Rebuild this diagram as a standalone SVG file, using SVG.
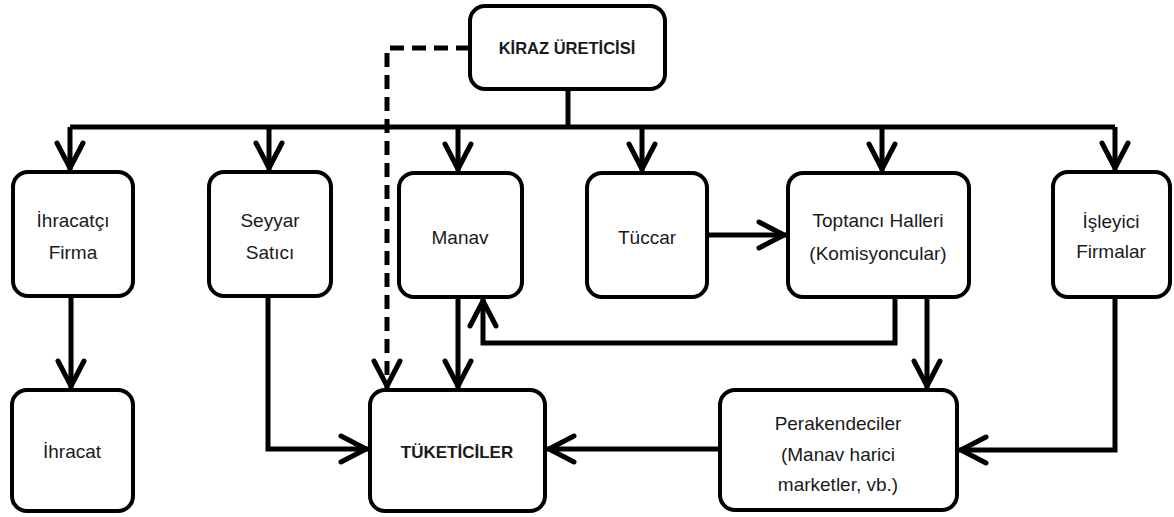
<svg xmlns="http://www.w3.org/2000/svg" width="1174" height="517" viewBox="0 0 1174 517">
<style>
.box{fill:#fff;stroke:#000;stroke-width:4}
.t{font-family:"Liberation Sans",Arial,sans-serif;font-size:19px;fill:#1a1a1a;text-anchor:middle}
.b{font-weight:bold;font-size:16.5px}
.c{fill:none;stroke:#000;stroke-width:5;stroke-linejoin:miter}
.d{stroke-dasharray:14 8}
</style>
<defs>
<marker id="arr" markerUnits="userSpaceOnUse" markerWidth="40" markerHeight="40" viewBox="-32 -20 40 40" refX="0" refY="0" orient="auto" overflow="visible">
<path d="M-27,-13 L-2,0 L-27,13" fill="none" stroke="#000" stroke-width="5" stroke-linejoin="round" stroke-linecap="round"/>
</marker>
</defs>
<rect width="1174" height="517" fill="#fff"/>
<g id="connectors">
<path class="c" d="M568,89 V127"/>
<path class="c" d="M70,127 H1115"/>
<path class="c" d="M70,127 V170" marker-end="url(#arr)"/>
<path class="c" d="M269,127 V170" marker-end="url(#arr)"/>
<path class="c" d="M458,127 V171" marker-end="url(#arr)"/>
<path class="c" d="M642,127 V171" marker-end="url(#arr)"/>
<path class="c" d="M882,127 V171" marker-end="url(#arr)"/>
<path class="c" d="M1115,127 V170" marker-end="url(#arr)"/>
<path class="c d" d="M470,48 H387 V388" marker-end="url(#arr)"/>
<path class="c" d="M71,296 V388" marker-end="url(#arr)"/>
<path class="c" d="M268,296 V449 H368" marker-end="url(#arr)"/>
<path class="c" d="M458,297 V388" marker-end="url(#arr)"/>
<path class="c" d="M895,297 V343 H483 V299" marker-end="url(#arr)"/>
<path class="c" d="M927,297 V388" marker-end="url(#arr)"/>
<path class="c" d="M1115,297 V450 H959" marker-end="url(#arr)"/>
<path class="c" d="M720,449 H547" marker-end="url(#arr)"/>
<path class="c" d="M707,235 H786" marker-end="url(#arr)"/>
</g>
<g id="kiraz"><rect class="box" x="470" y="6" width="195" height="83" rx="15"/><text class="t b" x="567" y="54">KİRAZ ÜRETİCİSİ</text></g>
<g id="ihracatci"><rect class="box" x="13" y="172" width="120" height="124" rx="15"/><text class="t" x="73" y="227">İhracatçı</text><text class="t" x="73" y="259">Firma</text></g>
<g id="seyyar"><rect class="box" x="209" y="172" width="122" height="124" rx="15"/><text class="t" x="270" y="227">Seyyar</text><text class="t" x="270" y="259">Satıcı</text></g>
<g id="manav"><rect class="box" x="399" y="173" width="123" height="124" rx="15"/><text class="t" x="460" y="244">Manav</text></g>
<g id="tuccar"><rect class="box" x="587" y="173" width="120" height="124" rx="15"/><text class="t" x="647" y="244">Tüccar</text></g>
<g id="toptanci"><rect class="box" x="788" y="173" width="181" height="124" rx="15"/><text class="t" x="878" y="227">Toptancı Halleri</text><text class="t" x="878" y="260">(Komisyoncular)</text></g>
<g id="isleyici"><rect class="box" x="1053" y="172" width="117" height="125" rx="15"/><text class="t" x="1111" y="228">İşleyici</text><text class="t" x="1111" y="258">Firmalar</text></g>
<g id="ihracat"><rect class="box" x="12" y="390" width="121" height="121" rx="15"/><text class="t" x="72" y="458">İhracat</text></g>
<g id="tuketiciler"><rect class="box" x="370" y="390" width="175" height="121" rx="15"/><text class="t b" x="457" y="458" style="font-size:17px">TÜKETİCİLER</text></g>
<g id="perakendeciler"><rect class="box" x="720" y="390" width="237" height="120" rx="15"/><text class="t" x="838" y="430">Perakendeciler</text><text class="t" x="838" y="461">(Manav harici</text><text class="t" x="838" y="491">marketler, vb.)</text></g>
</svg>
